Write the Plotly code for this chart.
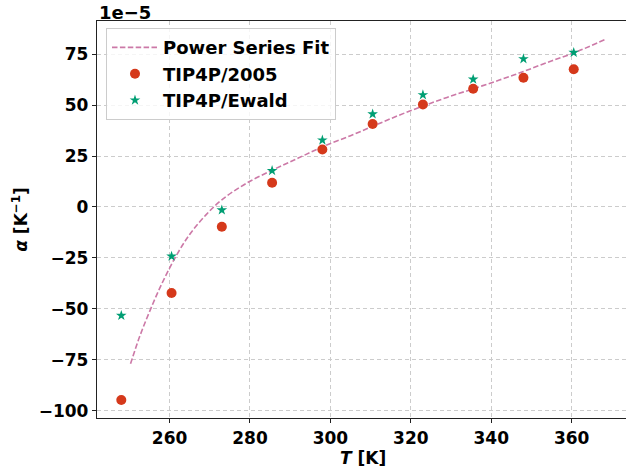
import plotly.graph_objects as go

# Data (alpha in units of 1e-5 K^-1)
T_sim = [248.0, 260.5, 273.0, 285.5, 298.0, 310.5, 323.0, 335.5, 348.0, 360.5]
alpha_tip4p2005 = [-94.8, -42.2, -9.7, 11.9, 28.2, 40.7, 50.3, 58.0, 63.4, 67.6]
alpha_tip4pew = [-53.3, -24.2, -1.5, 17.8, 32.8, 45.6, 55.0, 62.7, 72.7, 75.8]

T_fit = [250.3, 252.5, 255.0, 258.0, 261.5, 265.0, 269.0, 273.0, 279.0, 286.0,
         292.0, 298.0, 305.0, 311.0, 317.0, 323.0, 329.0, 335.5, 342.0, 348.0,
         354.0, 360.5, 368.5]
alpha_fit = [-77.0, -64.0, -51.5, -38.0, -24.5, -13.5, -4.0, 3.5, 11.5, 18.5,
             24.0, 29.5, 35.0, 40.0, 45.0, 49.5, 53.8, 58.0, 62.3, 66.5,
             71.0, 75.6, 82.4]

x_ticks = [260, 280, 300, 320, 340, 360]
y_ticks = [-100, -75, -50, -25, 0, 25, 50, 75]

FONT = "DejaVu Sans"
FS = 17
LFS = 18

fig = go.Figure()
fig.add_trace(go.Scatter(
    x=T_fit, y=alpha_fit, mode="lines", name="Power Series Fit",
    line=dict(color="#CC79A7", width=1.6, dash="5.5px,2.4px", shape="spline"),
    legendgroup="a"))
fig.add_trace(go.Scatter(
    x=T_sim, y=alpha_tip4p2005, mode="markers", name="TIP4P/2005",
    marker=dict(symbol="circle", size=10, color="#d5391b"),
    legendgroup="b"))
fig.add_trace(go.Scatter(
    x=T_sim, y=alpha_tip4pew, mode="markers", name="TIP4P/Ewald",
    marker=dict(symbol="star", size=8, color="#009E73"),
    legendgroup="c"))

grid = dict(showgrid=True, gridcolor="#cccccc", griddash="4px,3px", gridwidth=1)

fig.update_xaxes(
    range=[241.96, 373.5], tickvals=x_ticks, ticktext=[str(v) for v in x_ticks],
    showline=True, linecolor="#222222", linewidth=1.3, mirror=True,
    ticks="outside", ticklen=4, tickcolor="#222222",
    tickfont=dict(family=FONT, size=FS, color="black", weight="bold"),
    zeroline=False, **grid)
fig.update_yaxes(
    range=[-103.6, 91.3], tickvals=y_ticks,
    ticktext=[str(v).replace("-", "\u2212") for v in y_ticks],
    showline=True, linecolor="#222222", linewidth=1.3, mirror=False,
    ticks="outside", ticklen=4, tickcolor="#222222",
    tickfont=dict(family=FONT, size=FS, color="black", weight="bold"),
    zeroline=False, **grid)

fig.update_layout(
    width=626, height=471,
    margin=dict(l=97, r=0, t=21, b=53),
    plot_bgcolor="white", paper_bgcolor="white",
    font=dict(family=FONT, size=FS, color="black"),
    legend=dict(
        x=0.017, y=0.982, xanchor="left", yanchor="top",
        bgcolor="rgba(255,255,255,0.8)", bordercolor="#cccccc", borderwidth=1,
        font=dict(family=FONT, size=LFS, color="black", weight="bold"),
        itemwidth=46, traceorder="grouped", tracegroupgap=0),
    annotations=[
        dict(text="<b>1e\u22125</b>", xref="paper", yref="paper", x=0, y=1.0214,
             xanchor="left", yanchor="middle", showarrow=False,
             font=dict(family=FONT, size=LFS, color="black")),
        dict(text="<b><i>T</i> [K]</b>", xref="paper", yref="paper", x=0.503, y=-0.1,
             xanchor="center", yanchor="middle", showarrow=False,
             font=dict(family=FONT, size=FS, color="black")),
        dict(text="<b><i>\u03b1</i> [K<sup>\u22121</sup>]</b>", xref="paper", yref="paper",
             x=-0.147, y=0.5, xanchor="center", yanchor="middle", textangle=-90,
             showarrow=False, font=dict(family=FONT, size=FS, color="black")),
    ],
)

fig.write_html("out.html")
